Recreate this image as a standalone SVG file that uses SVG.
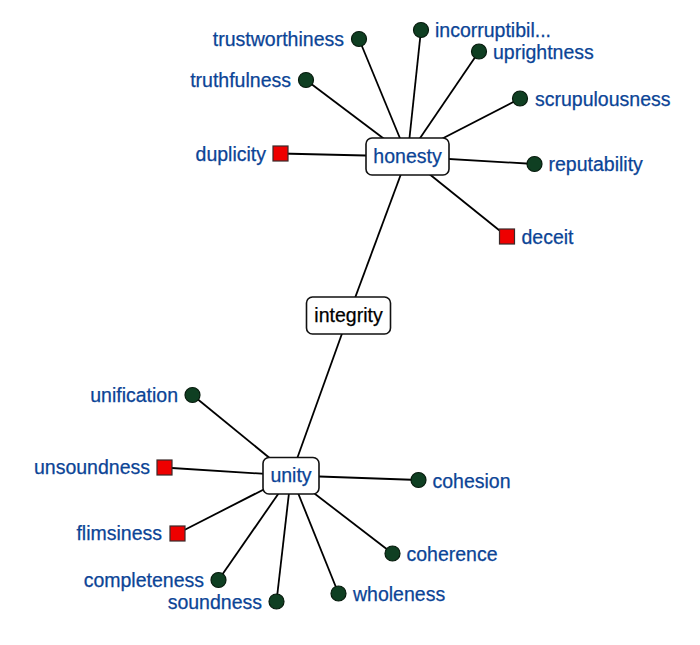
<svg xmlns="http://www.w3.org/2000/svg" width="700" height="645" viewBox="0 0 700 645">
<style>
.lbl{font-family:"Liberation Sans",Arial,sans-serif;font-size:19.5px;fill:#0b4496;stroke:#0b4496;stroke-width:0.25}
.ctr{font-family:"Liberation Sans",Arial,sans-serif;font-size:19.5px;text-anchor:middle;stroke-width:0.25}
.e{text-anchor:end}
.box{fill:#fff;stroke:#111;stroke-width:1.6}
.dot{fill:#0f3f22;stroke:#061a0c;stroke-width:1.2}
.sq{fill:#ee0000;stroke:#3a2a2a;stroke-width:1.2}
#edges line{stroke:#000;stroke-width:1.8}
</style>
<rect width="700" height="645" fill="#fff"/>
<g id="edges">
<line x1="348.5" y1="315.5" x2="407.5" y2="156.5"/>
<line x1="348.5" y1="315.5" x2="291" y2="475.5"/>
<line x1="359" y1="39" x2="407.5" y2="156.5"/>
<line x1="421" y1="30" x2="407.5" y2="156.5"/>
<line x1="479" y1="51.5" x2="407.5" y2="156.5"/>
<line x1="306" y1="80" x2="407.5" y2="156.5"/>
<line x1="520" y1="98.5" x2="407.5" y2="156.5"/>
<line x1="534.5" y1="164" x2="407.5" y2="156.5"/>
<line x1="507" y1="236.5" x2="407.5" y2="156.5"/>
<line x1="280.5" y1="153.5" x2="407.5" y2="156.5"/>
<line x1="192.5" y1="395" x2="291" y2="475.5"/>
<line x1="164" y1="467.5" x2="291" y2="475.5"/>
<line x1="418.5" y1="480" x2="291" y2="475.5"/>
<line x1="177.5" y1="533.5" x2="291" y2="475.5"/>
<line x1="392.5" y1="553.5" x2="291" y2="475.5"/>
<line x1="218.5" y1="580" x2="291" y2="475.5"/>
<line x1="276.5" y1="601.5" x2="291" y2="475.5"/>
<line x1="338.5" y1="593.5" x2="291" y2="475.5"/>
</g>
<g id="honesty"><rect class="box" x="366" y="138" width="83" height="37" rx="6"/><text class="ctr" x="407.5" y="163" fill="#0b4496" stroke="#0b4496">honesty</text></g>
<g id="integrity"><rect class="box" x="306.5" y="297" width="84" height="37" rx="6"/><text class="ctr" x="348.5" y="322" fill="#000" stroke="#000">integrity</text></g>
<g id="unity"><rect class="box" x="263" y="457.5" width="56" height="36.5" rx="6"/><text class="ctr" x="291" y="482" fill="#0b4496" stroke="#0b4496">unity</text></g>
<g id="trustworthiness"><circle class="dot" cx="359" cy="39" r="7.5"/><text class="lbl e" x="344" y="46">trustworthiness</text></g>
<g id="incorruptibility"><circle class="dot" cx="421" cy="30" r="7.5"/><text class="lbl" x="435" y="37">incorruptibil...</text></g>
<g id="uprightness"><circle class="dot" cx="479" cy="51.5" r="7.5"/><text class="lbl" x="493" y="58.5">uprightness</text></g>
<g id="truthfulness"><circle class="dot" cx="306" cy="80" r="7.5"/><text class="lbl e" x="291" y="87">truthfulness</text></g>
<g id="scrupulousness"><circle class="dot" cx="520" cy="98.5" r="7.5"/><text class="lbl" x="535" y="105.5">scrupulousness</text></g>
<g id="reputability"><circle class="dot" cx="534.5" cy="164" r="7.5"/><text class="lbl" x="548.5" y="171">reputability</text></g>
<g id="deceit"><rect class="sq" x="499.5" y="229" width="15" height="15"/><text class="lbl" x="521.5" y="244">deceit</text></g>
<g id="duplicity"><rect class="sq" x="273" y="146" width="15" height="15"/><text class="lbl e" x="266" y="161">duplicity</text></g>
<g id="unification"><circle class="dot" cx="192.5" cy="395" r="7.5"/><text class="lbl e" x="178" y="402">unification</text></g>
<g id="unsoundness"><rect class="sq" x="157" y="460" width="15" height="15"/><text class="lbl e" x="150" y="474">unsoundness</text></g>
<g id="cohesion"><circle class="dot" cx="418.5" cy="480" r="7.5"/><text class="lbl" x="432.5" y="487.5">cohesion</text></g>
<g id="flimsiness"><rect class="sq" x="170" y="526" width="15" height="15"/><text class="lbl e" x="162" y="540">flimsiness</text></g>
<g id="coherence"><circle class="dot" cx="392.5" cy="553.5" r="7.5"/><text class="lbl" x="406.5" y="560.5">coherence</text></g>
<g id="completeness"><circle class="dot" cx="218.5" cy="580" r="7.5"/><text class="lbl e" x="204" y="587">completeness</text></g>
<g id="soundness"><circle class="dot" cx="276.5" cy="601.5" r="7.5"/><text class="lbl e" x="262" y="608.5">soundness</text></g>
<g id="wholeness"><circle class="dot" cx="338.5" cy="593.5" r="7.5"/><text class="lbl" x="353" y="600.5">wholeness</text></g>
</svg>
